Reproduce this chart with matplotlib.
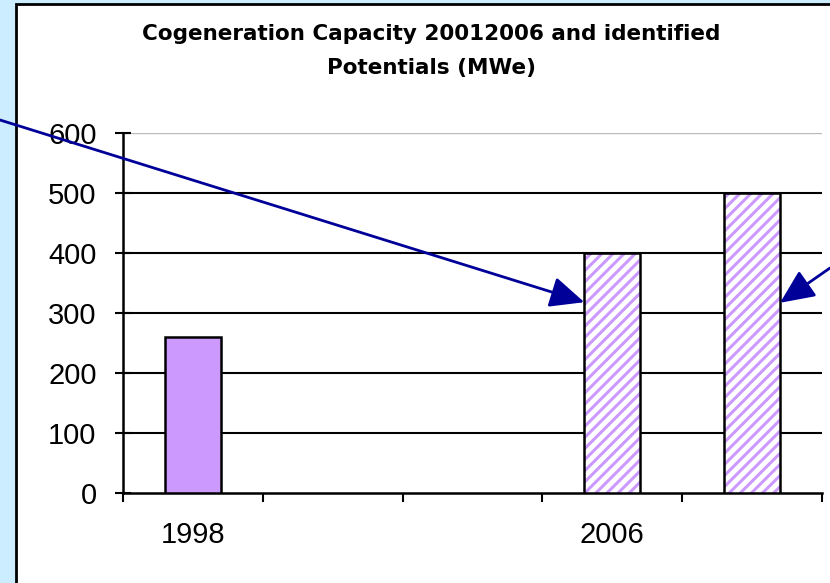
import matplotlib.pyplot as plt
from matplotlib.patches import Rectangle
import numpy as np

# categories along x (only two carry labels in the original)
years = ['1998', '', '', '2006', '']
installed = [260, 0, 0, 0, 0]      # solid bar
potential = [0, 0, 0, 400, 500]    # hatched bars (identified potentials)
yticks = [0, 100, 200, 300, 400, 500, 600]

plt.rcParams['font.family'] = ['Liberation Sans', 'DejaVu Sans']
plt.rcParams['hatch.linewidth'] = 2.2

fig = plt.figure(figsize=(8.3, 5.83), dpi=100, facecolor='#CCECFF')

# white panel with black border, running off the right/bottom edge
panel = Rectangle((16 / 830, -0.1), 1.2, 1.1 - 4 / 583,
                  transform=fig.transFigure, facecolor='white',
                  edgecolor='black', linewidth=2, zorder=-10)
fig.patches.append(panel)

ax = fig.add_axes([123 / 830, 90 / 583, 699 / 830, 360 / 583])
ax.set_facecolor('none')

x = np.arange(len(years))

# gridlines
for v in yticks[1:]:
    col = '#BBBBBB' if v == yticks[-1] else 'black'
    ax.axhline(v, color=col, linewidth=1.5 if col == 'black' else 1.0, zorder=1)

for xi, v in zip(x, installed):
    if v > 0:
        ax.bar(xi, v, width=0.4, color='#CC99FF', edgecolor='black',
               linewidth=1.8, zorder=3)

for xi, v in zip(x, potential):
    if v > 0:
        ax.bar(xi, v, width=0.4, color='white', edgecolor='#CC99FF',
               hatch='///', linewidth=0, zorder=3)
        ax.bar(xi, v, width=0.4, fill=False, edgecolor='black',
               linewidth=1.8, zorder=4)

ax.set_xlim(-0.5, len(years) - 0.5)
ax.set_ylim(0, 600)
ax.set_yticks(yticks)
ax.tick_params(axis='y', direction='inout', length=12, width=1.5,
               labelsize=21, pad=13)
ax.set_xticks(x)
ax.set_xticklabels(years)
ax.tick_params(axis='x', which='major', length=0, labelsize=21, pad=20)
ax.set_xticks(np.arange(len(years) + 1) - 0.5, minor=True)
ax.tick_params(axis='x', which='minor', direction='out', length=6.5, width=1.5)

for s in ['top', 'right']:
    ax.spines[s].set_visible(False)
for s in ['left', 'bottom']:
    ax.spines[s].set_linewidth(1.8)

fig.text(431 / 830, 1 - 51 / 583,
         'Cogeneration Capacity 20012006 and identified\nPotentials (MWe)',
         ha='center', va='center', fontsize=15.5, fontweight='bold',
         family='DejaVu Sans', linespacing=1.9)

# arrows pointing at the potential bars
arrow = dict(arrowstyle='-|>,head_length=2.1,head_width=0.95',
             color='#000099', linewidth=2, shrinkA=0, shrinkB=0)
ax.annotate('', xy=(2.8, 318), xycoords='data',
            xytext=(0, 583 - 120), textcoords='figure pixels',
            arrowprops=arrow, annotation_clip=False, zorder=6)
ax.annotate('', xy=(4.2, 317), xycoords='data',
            xytext=(830, 583 - 268), textcoords='figure pixels',
            arrowprops=arrow, annotation_clip=False, zorder=6)

fig.savefig('out.png', dpi=100, facecolor=fig.get_facecolor())
